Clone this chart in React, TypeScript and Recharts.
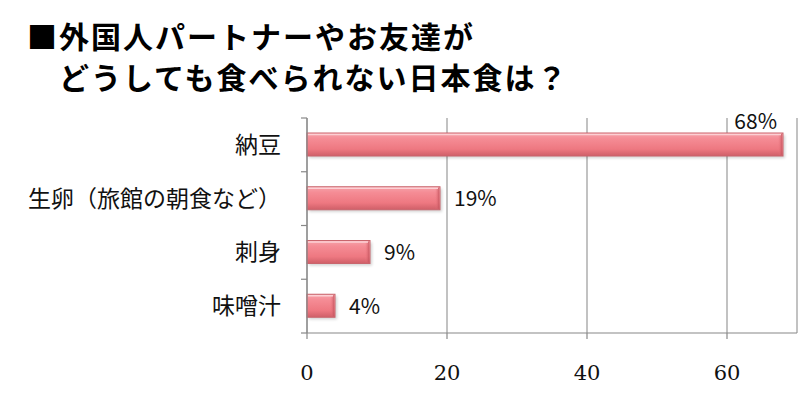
import React from "react";
import { BarChart, Bar, XAxis, YAxis, CartesianGrid, LabelList } from "recharts";

const categories = ["納豆", "生卵（旅館の朝食など）", "刺身", "味噌汁"];
const values = [68, 19, 9, 4];
const xTicks = [0, 20, 40, 60];
const titleLines = ["■外国人パートナーやお友達が", "　どうしても食べられない日本食は？"];

const data = categories.map((name, i) => ({ name, value: values[i] }));

const W = 800;
const H = 400;
const MARGIN = { top: 118, right: 3, bottom: 0, left: 0 };
const X_AXIS_H = 67;
const Y_AXIS_W = 307;
const PLOT_H = H - MARGIN.top - MARGIN.bottom - X_AXIS_H;
const BAND = PLOT_H / categories.length;
const JP = "'Noto Sans CJK JP', 'Noto Sans', sans-serif";

const YTick = (props: any) => {
  const { x, y, payload, index } = props;
  const top = y - BAND / 2;
  return (
    <g>
      <line x1={x + 2} x2={x + 8} y1={top} y2={top} stroke="#888" strokeWidth={1.2} />
      {index === categories.length - 1 && (
        <line x1={x + 2} x2={x + 8} y1={y + BAND / 2} y2={y + BAND / 2} stroke="#888" strokeWidth={1.2} />
      )}
      <text x={x - 18} y={y} dy={8} textAnchor="end" fontFamily={JP} fontSize={23} fill="#111">
        {payload.value}
      </text>
    </g>
  );
};

const BarShape = (props: any) => {
  const { x, y, width, height } = props;
  if (!width || width <= 0) return null;
  return (
    <g>
      <rect x={x + 2} y={y + 2} width={width} height={height} fill="#000" opacity={0.18} filter="url(#blur)" />
      <rect x={x} y={y} width={width} height={height} fill="url(#barGrad)" stroke="#c9656d" strokeWidth={1} />
      <rect x={x + width - 5} y={y + 1} width={4} height={height - 2} fill="url(#endGrad)" />
      <line x1={x + 1} x2={x + width - 2} y1={y + 1.5} y2={y + 1.5} stroke="#fcd0d4" strokeWidth={1.5} />
    </g>
  );
};

const ValueLabel = (props: any) => {
  const { x, y, width, height, value } = props;
  const big = value > 50;
  if (big) {
    return (
      <text x={x + width - 6} y={y - 4} textAnchor="end" fontFamily={JP} fontSize={21} fill="#111">
        {value}%
      </text>
    );
  }
  return (
    <text x={x + width + 14} y={y + height / 2} dy={8} textAnchor="start" fontFamily={JP} fontSize={21} fill="#111">
      {value}%
    </text>
  );
};

export default function App() {
  return (
    <div style={{ position: "absolute", left: 0, top: 0, width: W, height: H, background: "#fff" }}>
      {titleLines.map((l, i) => (
        <div
          key={i}
          style={{
            position: "absolute",
            left: 27,
            top: 16 + i * 41,
            height: 38,
            fontFamily: JP,
            fontSize: 30,
            fontWeight: 700,
            letterSpacing: "2px",
            lineHeight: "38px",
            color: "#000",
            whiteSpace: "pre",
            zIndex: 2,
          }}
        >
          {l}
        </div>
      ))}
      <BarChart width={W} height={H} data={data} layout="vertical" margin={MARGIN} barSize={23}>
        <defs>
          <linearGradient id="barGrad" x1="0" y1="0" x2="0" y2="1">
            <stop offset="0%" stopColor="#f6a3aa" />
            <stop offset="25%" stopColor="#f58c95" />
            <stop offset="70%" stopColor="#ee7881" />
            <stop offset="100%" stopColor="#cf5f68" />
          </linearGradient>
          <linearGradient id="endGrad" x1="0" y1="0" x2="1" y2="0">
            <stop offset="0%" stopColor="#ee7881" stopOpacity={0} />
            <stop offset="100%" stopColor="#c4545e" stopOpacity={0.8} />
          </linearGradient>
          <filter id="blur" x="-10%" y="-50%" width="120%" height="200%">
            <feGaussianBlur stdDeviation="1.5" />
          </filter>
        </defs>
        <CartesianGrid horizontal={false} vertical stroke="#999" strokeWidth={1.2} />
        <XAxis
          type="number"
          domain={[0, 70]}
          ticks={xTicks}
          height={X_AXIS_H}
          axisLine={{ stroke: "#888", strokeWidth: 1.2 }}
          tickLine={{ stroke: "#888", strokeWidth: 1.2 }}
          tickSize={6}
          tick={{ fontFamily: "'DejaVu Serif', serif", fontSize: 21, fill: "#111", dy: 24 }}
          interval={0}
        />
        <YAxis
          type="category"
          dataKey="name"
          width={Y_AXIS_W}
          axisLine={{ stroke: "#888", strokeWidth: 1.2 }}
          tickLine={false}
          tick={<YTick />}
          interval={0}
        />
        <Bar dataKey="value" shape={<BarShape />} isAnimationActive={false}>
          <LabelList dataKey="value" content={<ValueLabel />} />
        </Bar>
      </BarChart>
    </div>
  );
}
